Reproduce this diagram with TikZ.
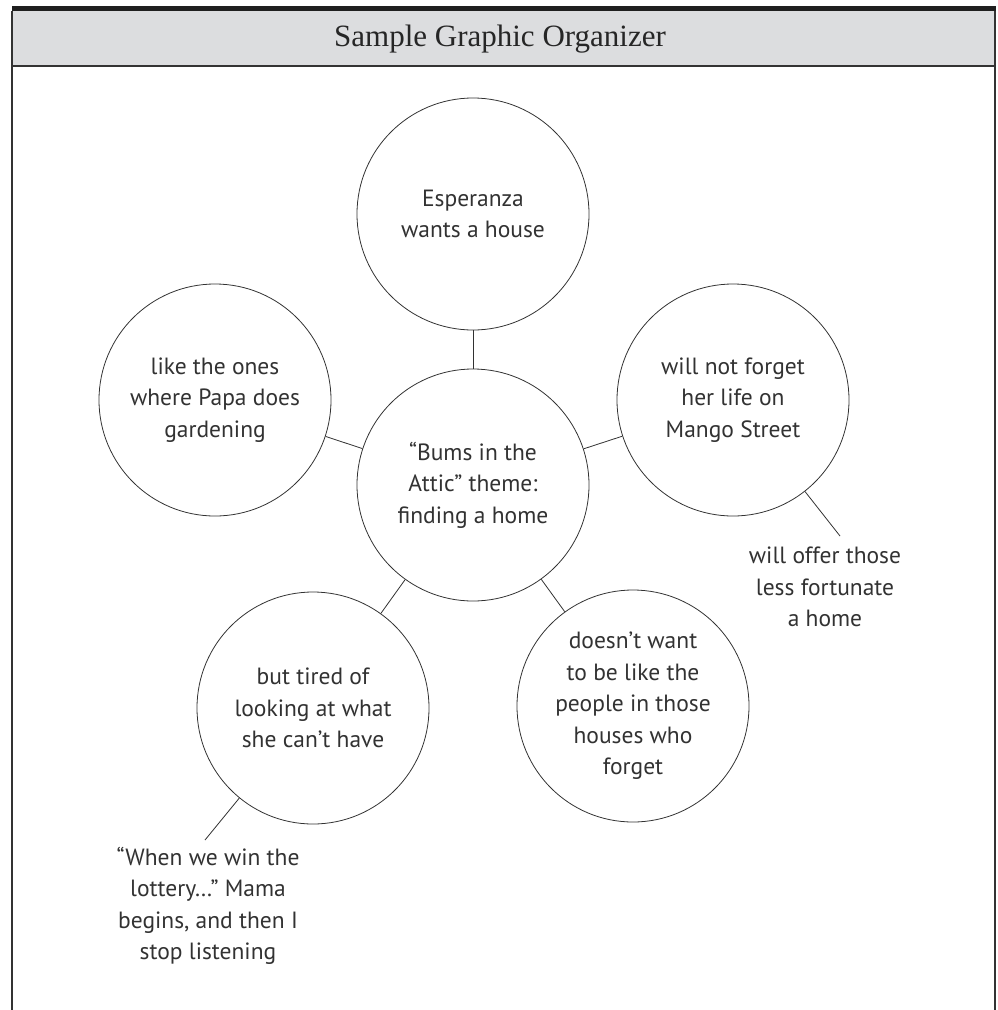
\documentclass[tikz,border=0pt]{standalone}
\usepackage{fontspec}
\setmainfont{Liberation Serif}
\newfontfamily\handfont{PT Sans}
\usetikzlibrary{positioning}
\definecolor{headgray}{RGB}{220,221,223}
\definecolor{inkgray}{RGB}{50,50,50}

\begin{document}
\begin{tikzpicture}[x=1pt, y=-1pt,
    idea/.style={draw=inkgray, circle, line width=0.8pt, minimum size=232pt,
                inner sep=0pt, align=center, text=inkgray,
                font=\handfont\fontsize{23.5}{31.5}\selectfont},
    note/.style={align=center, inner sep=0pt, text=inkgray,
                font=\handfont\fontsize{23.5}{31.5}\selectfont},
    link/.style={draw=inkgray, line width=0.8pt},
    frame/.style={draw=black!80, line width=1.6pt}
]
\useasboundingbox (0,0) rectangle (998,1010);

%% ---- HEADER BAND ----
\fill [black!88] (12,6) rectangle (996,11);
\fill [headgray] (12,11) rectangle (995,66);
\draw [frame] (12,11) -- (12,1010);
\draw [frame] (995,11) -- (995,1010);
\draw [frame] (12,66) -- (995,66);
\node [font=\fontsize{31}{36}\selectfont, text=black!85] (title) at (500,39) {Sample Graphic Organizer};

%% ---- CIRCLES ----
\node [idea] (house)   at (473,214) {Esperanza\\wants a house};
\node [idea] (theme)   at (473,485) {“Bums in the\\Attic” theme:\\finding a home};
\node [idea] (papa)    at (215,400) {like the ones\\where Papa does\\gardening};
\node [idea] (mango)   at (733,400) {will not forget\\her life on\\Mango Street};
\node [idea] (tired)   at (313,708) {but tired of\\looking at what\\she can’t have};
\node [idea] (forget)  at (633,706) {doesn’t want\\to be like the\\people in those\\houses who\\forget};

%% ---- FREE NOTES ----
\node [note] (offer)   at (825,587) {will offer those\\less fortunate\\a home};
\node [note] (lottery) at (208,906) {“When we win the\\lottery…” Mama\\begins, and then I\\stop listening};
\coordinate (offertip)   at (840,536);
\coordinate (lotterytip) at (205,840);

%% ---- LINKS ----
\draw [link] (theme) -- (house);
\draw [link] (theme) -- (papa);
\draw [link] (theme) -- (mango);
\draw [link] (theme) -- (tired);
\draw [link] (theme) -- (forget);
\draw [link] (mango) -- (offertip);
\draw [link] (tired) -- (lotterytip);

\end{tikzpicture}
\end{document}
